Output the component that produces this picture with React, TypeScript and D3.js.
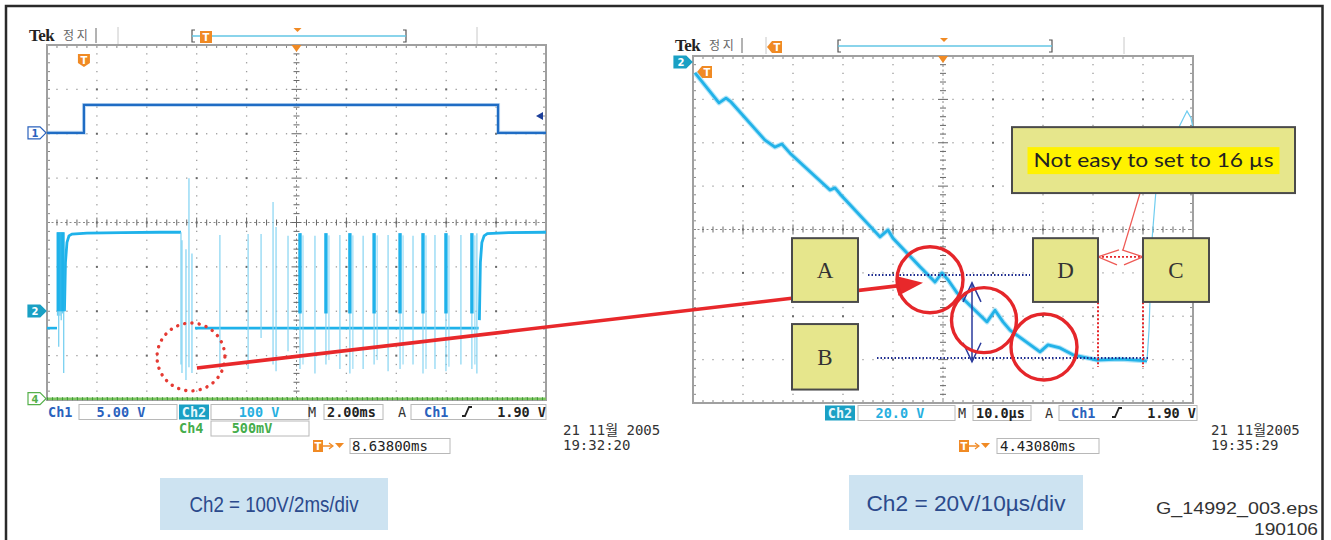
import React from "react";
import * as d3 from "d3";

// ---------------- Left scope (Ch1 5.00 V, Ch2 100 V/div, 2.00 ms/div) ----------------
// time in ms (10 divisions x 2 ms), amplitude in screen divisions (-4..4)
const leftTimeDomain: [number, number] = [0, 20];
const divDomain: [number, number] = [-4, 4];

const ch1Times = [0, 1.48, 1.48, 18.08, 18.08, 20];
const ch1Levels = [2.02, 2.02, 2.65, 2.65, 2.02, 2.02];

const ch2BaseLevel = -2.38;
const ch2BaseStarts = [0, 5.93];
const ch2BaseEnds = [0.4, 17.3];

const ch2Plateau1Times = [0.7, 0.74, 0.8, 0.88, 1.0, 1.6, 3.0, 4.5, 5.37];
const ch2Plateau1Levels = [-2.0, -0.9, -0.45, -0.3, -0.26, -0.24, -0.23, -0.22, -0.22];
const ch2Plateau2Times = [17.33, 17.37, 17.43, 17.52, 17.65, 18.5, 20];
const ch2Plateau2Levels = [-2.2, -0.9, -0.45, -0.3, -0.25, -0.23, -0.22];

const ch2BurstTimes = [0.42, 0.47, 0.52, 0.57, 0.62, 0.67];
const ch2BurstBottoms = [-2.1, -2.8, -2.1, -2.2, -2.05, -3.39];
const ch2BurstTop = -0.22;

const ch2SpikeTimes = [5.37, 5.41, 5.57, 5.69, 5.81];
const ch2SpikeTops = [-0.22, -0.4, -0.6, 1.0, -0.7];
const ch2SpikeBottoms = [-3.2, -3.39, -3.55, -3.26, -3.39];

const pulseTimes = [6.93, 8.06, 8.58, 9.06, 9.18, 9.66, 10.14, 10.74, 11.18, 11.74, 12.14, 12.67, 13.11, 13.67, 14.15, 14.67, 15.07, 15.55, 15.99, 16.59, 17.03, 17.23];
const pulseTops = [-0.28, -0.26, -0.26, 0.46, -0.1, -0.3, -0.24, -0.3, -0.24, -0.28, -0.24, -0.3, -0.24, -0.28, -0.24, -0.3, -0.24, -0.28, -0.24, -0.28, -0.24, -0.24];
const pulseBottoms = [-3.3, -3.3, -2.6, -3.2, -3.35, -2.9, -3.3, -3.4, -3.2, -3.3, -3.4, -3.3, -3.2, -3.35, -3.3, -3.2, -3.4, -3.3, -3.35, -3.2, -3.3, -3.4];
const pulseThick = [false, false, false, false, false, false, true, false, true, false, true, false, true, false, true, false, true, false, true, false, true, false];

const ch4Level = -3.97;

// ---------------- Right scope (Ch2 20.0 V/div, 10.0 µs/div) ----------------
const rightTimeDomain: [number, number] = [0, 100];
const ch2RightTimes = [0.4, 5.2, 6.6, 7.6, 14.4, 16.4, 17.8, 19.4, 27.4, 28.4, 29.4, 37.4, 39.0, 40.0, 45.4, 48.4, 49.8, 51.0, 52.8, 58.8, 60.4, 62.0, 63.4, 69.4, 71.0, 73.4, 76.0, 80.8, 85.4, 90.8];
const ch2RightLevels = [3.61, 2.92, 3.03, 2.94, 2.06, 1.9, 1.97, 1.76, 0.91, 0.96, 0.82, -0.17, -0.01, -0.2, -0.86, -1.21, -1.0, -1.16, -1.46, -2.13, -1.86, -2.13, -2.32, -2.82, -2.66, -2.73, -2.89, -3.01, -2.99, -3.03];
const ch2RiseTimes = [90.8, 91.2, 91.8, 92.6, 95.4, 97.4, 98.8, 99.6, 100];
const ch2RiseLevels = [-3.03, -2.32, -0.24, 0.91, 1.83, 2.41, 2.73, 2.57, 2.34];

// annotations in right-scope units (µs, divisions)
const boxLabels = ["A", "B", "D", "C"];
const boxT0 = [19.8, 19.8, 68, 90];
const boxT1 = [33.0, 33.0, 81, 103.2];
const boxVTop = [-0.2, -2.18, -0.2, -0.2];
const boxVBot = [-1.67, -3.69, -1.67, -1.67];

const noteText = "Not easy to set to 16 µs";
const noteT = [63.8, 120.4];
const noteV = [2.36, 0.84];

const circleT = [47.4, 58.2, 70.2];
const circleV = [-1.16, -2.09, -2.71];
const circleR = [6.6, 6.5, 6.6];

const blueLevelV = [-1.05, -2.96];
const blueLevelT0 = [35, 36.8];
const blueLevelT1 = [67.4, 91];
const blueArrowT = 55.8;
const blueArrowV = [-1.23, -3.05];

const redMarkT = [81, 90];
const redMarkV = [-0.2, -3.17];
const redSpanV = -0.63;
const pointerFrom = [89.4, 0.84];
const pointerTo = [86, -0.47];

// big red arrow: from left scope (ms, div) to right scope (µs, div)
const arrowFromLeft = [6.01, -3.28];
const arrowToRight = [46, -1.23];
const dottedCircleLeft = [5.77, -3.03, 1.36];

const leftCaption = "Ch2 = 100V/2ms/div";
const rightCaption = "Ch2 = 20V/10µs/div";
const fileName = "G_14992_003.eps";
const fileDate = "190106";

// ---------------- scales ----------------
const xL = d3.scaleLinear().domain(leftTimeDomain).range([47, 546]);
const yL = d3.scaleLinear().domain(divDomain).range([400, 45]);
const xR = d3.scaleLinear().domain(rightTimeDomain).range([693, 1193]);
const yR = d3.scaleLinear().domain(divDomain).range([403, 56]);

const MONO = "'DejaVu Sans Mono', monospace";
const ORANGE = "#f08a24";
const CYAN = "#1fb2ea";
const CH1BLUE = "#2a62bd";
const NARROW = "'Liberation Sans Narrow', 'Liberation Sans', sans-serif";

function Graticule({ xs, ys, id }: any) {
  const xd = xs.domain();
  const yd = ys.domain();
  const X = (f: number) => xs(xd[0] + (xd[1] - xd[0]) * f);
  const Y = (f: number) => ys(yd[0] + (yd[1] - yd[0]) * f);
  const left = X(0), right = X(1), top = Y(1), bottom = Y(0);
  const cx = X(0.5), cy = Y(0.5);
  const els: any[] = [];
  for (let i = 1; i < 10; i++) {
    if (i === 5) continue;
    const x = X(i / 10);
    for (let k = 1; k < 40; k++) {
      const big = k % 5 === 0;
      const s = big ? 2 : 1.3;
      els.push(<rect key={`${id}v${i}-${k}`} x={x - s / 2} y={Y(k / 40) - s / 2} width={s} height={s} fill={big ? "#666" : "#9c9c9c"} />);
    }
  }
  for (let j = 1; j < 8; j++) {
    if (j === 4) continue;
    const y = Y(j / 8);
    for (let k = 1; k < 50; k++) {
      if (k % 5 === 0) continue;
      els.push(<rect key={`${id}h${j}-${k}`} x={X(k / 50) - 0.65} y={y - 0.65} width={1.3} height={1.3} fill="#9c9c9c" />);
    }
  }
  els.push(<line key={`${id}cv`} x1={cx} x2={cx} y1={top} y2={bottom} stroke="#8a8a8a" strokeWidth={1} strokeDasharray="2 2.5" />);
  els.push(<line key={`${id}ch`} x1={left} x2={right} y1={cy} y2={cy} stroke="#8a8a8a" strokeWidth={1} strokeDasharray="2 2.5" />);
  for (let k = 1; k < 40; k++) {
    const y = Y(k / 40);
    const l = k % 5 === 0 ? 5 : 3;
    els.push(<line key={`${id}ct${k}`} x1={cx - l} x2={cx + l} y1={y} y2={y} stroke="#666" strokeWidth={1} />);
    els.push(<line key={`${id}lt${k}`} x1={left} x2={left + 3} y1={y} y2={y} stroke="#888" strokeWidth={1} />);
    els.push(<line key={`${id}rt${k}`} x1={right - 3} x2={right} y1={y} y2={y} stroke="#888" strokeWidth={1} />);
  }
  for (let k = 1; k < 50; k++) {
    const x = X(k / 50);
    const l = k % 5 === 0 ? 5 : 3;
    els.push(<line key={`${id}cht${k}`} x1={x} x2={x} y1={cy - l} y2={cy + l} stroke="#666" strokeWidth={1} />);
    els.push(<line key={`${id}tt${k}`} x1={x} x2={x} y1={top} y2={top + 3} stroke="#888" strokeWidth={1} />);
    els.push(<line key={`${id}bt${k}`} x1={x} x2={x} y1={bottom - 3} y2={bottom} stroke="#888" strokeWidth={1} />);
  }
  els.push(<rect key={`${id}border`} x={left} y={top} width={right - left} height={bottom - top} fill="none" stroke="#a0a0a0" strokeWidth={2} />);
  return <g>{els}</g>;
}

function TIcon({ x, y, dir }: any) {
  let shape;
  if (dir === "down") {
    shape = `M${x - 6},${y - 6} H${x + 6} V${y + 3} L${x},${y + 7} L${x - 6},${y + 3} Z`;
  } else if (dir === "left") {
    shape = `M${x - 9},${y} L${x - 4},${y - 6} H${x + 6} V${y + 6} H${x - 4} Z`;
  } else {
    shape = `M${x - 6},${y - 6} H${x + 6} V${y + 6} H${x - 6} Z`;
  }
  return (
    <g>
      <path d={shape} fill={ORANGE} />
      <text x={x + (dir === "left" ? 1 : 0)} y={y + 4} textAnchor="middle" fontFamily="'DejaVu Sans', sans-serif" fontWeight="bold" fontSize={10} fill="#fff">T</text>
    </g>
  );
}

function TopBar({ x0, y, bracket, sep, trigX, tIcon }: any) {
  return (
    <g>
      <text x={x0} y={y + 5} fontFamily="'Liberation Serif', serif" fontWeight="bold" fontSize={17} fill="#222" letterSpacing={-0.5}>Tek</text>
      <text x={x0 + 34} y={y + 4} fontFamily="'Noto Sans CJK KR', sans-serif" fontSize={12} fill="#666">정 지</text>
      <line x1={x0 + 67} x2={x0 + 67} y1={y - 8} y2={y + 7} stroke="#666" strokeWidth={1} />
      {sep.map((s: number, i: number) => (
        <line key={i} x1={s} x2={s} y1={y - 9} y2={y + 8} stroke="#c8c8c8" strokeWidth={1} />
      ))}
      <path d={`M${bracket[0] + 3},${y - 6} H${bracket[0]} V${y + 6} H${bracket[0] + 3}`} fill="none" stroke="#555" strokeWidth={1.2} />
      <path d={`M${bracket[1] - 3},${y - 6} H${bracket[1]} V${y + 6} H${bracket[1] - 3}`} fill="none" stroke="#555" strokeWidth={1.2} />
      <line x1={bracket[0]} x2={bracket[1]} y1={y} y2={y} stroke="#63c6e4" strokeWidth={1.6} />
      <path d={`M${trigX - 4},${y - 8} H${trigX + 4} L${trigX},${y - 4} Z`} fill={ORANGE} />
      {tIcon}
    </g>
  );
}

function ChMarker({ x, y, label, fill, stroke, color }: any) {
  const d = `M${x},${y - 6} H${x + 12} L${x + 18},${y} L${x + 12},${y + 6} H${x} Z`;
  return (
    <g>
      <path d={d} fill={fill} stroke={stroke} strokeWidth={1.2} />
      <text x={x + 7} y={y + 4} textAnchor="middle" fontFamily="'DejaVu Sans', sans-serif" fontWeight="bold" fontSize={10} fill={color}>{label}</text>
    </g>
  );
}

function Box({ x0, x1, y }: any) {
  return <rect x={x0} y={y - 7.5} width={x1 - x0} height={15} fill="none" stroke="#b8b8b8" strokeWidth={1} />;
}

function Slope({ x, y }: any) {
  return <path d={`M${x - 5},${y + 4} H${x - 2} L${x + 2},${y - 5} H${x + 5}`} fill="none" stroke="#222" strokeWidth={1.8} />;
}

function TrigOffset({ x, y }: any) {
  return (
    <g>
      <rect x={x} y={y - 6} width={10} height={12} fill={ORANGE} />
      <text x={x + 5} y={y + 4} textAnchor="middle" fontFamily="'DejaVu Sans', sans-serif" fontWeight="bold" fontSize={10} fill="#fff">T</text>
      <line x1={x + 10} x2={x + 19} y1={y} y2={y} stroke={ORANGE} strokeWidth={1.5} />
      <path d={`M${x + 16},${y - 3} L${x + 20},${y} L${x + 16},${y + 3}`} fill="none" stroke={ORANGE} strokeWidth={1.2} />
      <path d={`M${x + 22},${y - 3} H${x + 31} L${x + 26.5},${y + 2} Z`} fill={ORANGE} />
    </g>
  );
}

export default function App() {
  const lineL = d3.line<[number, number]>().x((d) => xL(d[0])).y((d) => yL(d[1]));
  const lineR = d3.line<[number, number]>().x((d) => xR(d[0])).y((d) => yR(d[1]));
  const zipPts = (a: number[], b: number[]) => a.map((v, i) => [v, b[i]] as [number, number]);

  const ch1Path = lineL(zipPts(ch1Times, ch1Levels)) || "";
  const plat1 = lineL(zipPts(ch2Plateau1Times, ch2Plateau1Levels)) || "";
  const plat2 = lineL(zipPts(ch2Plateau2Times, ch2Plateau2Levels)) || "";
  const rightMain = lineR(zipPts(ch2RightTimes, ch2RightLevels)) || "";
  const rightRise = lineR(zipPts(ch2RiseTimes, ch2RiseLevels)) || "";

  const ax0 = xL(arrowFromLeft[0]), ay0 = yL(arrowFromLeft[1]);
  const ax1 = xR(arrowToRight[0]), ay1 = yR(arrowToRight[1]);
  const ang = Math.atan2(ay1 - ay0, ax1 - ax0);
  const hl = 26, hw = 10;
  const bx = ax1 - hl * Math.cos(ang), by = ay1 - hl * Math.sin(ang);
  const head = `M${ax1},${ay1} L${bx + hw * Math.sin(ang)},${by - hw * Math.cos(ang)} L${bx - hw * Math.sin(ang)},${by + hw * Math.cos(ang)} Z`;

  const bxA = xR(blueArrowT);
  const byTop = yR(blueArrowV[0]);
  const byBot = yR(blueArrowV[1]);

  const rx0 = xR(redMarkT[0]), rx1 = xR(redMarkT[1]);
  const ry = yR(redSpanV);

  return (
    <svg width={1331} height={540} style={{ position: "absolute", left: 0, top: 0, background: "#fff" }}>
      <rect x={0} y={0} width={1331} height={540} fill="#fff" />
      <path d="M6,560 V6 H1322.5 V560" fill="none" stroke="#2a2a2a" strokeWidth={2.5} />

      {/* ===== Left scope ===== */}
      <Graticule xs={xL} ys={yL} id="L" />
      <TopBar x0={29} y={36} bracket={[192, 406]} sep={[118, 477]} trigX={297.5} tIcon={<TIcon x={206} y={37} dir="box" />} />
      <path d={`M${xL(10) - 5},45 H${xL(10) + 5} L${xL(10)},52 Z`} fill={ORANGE} />
      <TIcon x={xL(1.48)} y={60} dir="down" />
      <ChMarker x={28} y={yL(2.02)} label="1" fill="#fff" stroke={CH1BLUE} color={CH1BLUE} />
      <ChMarker x={28} y={311} label="2" fill="#1aa0c4" stroke="#1aa0c4" color="#fff" />
      <ChMarker x={28} y={yL(ch4Level)} label="4" fill="#fff" stroke="#55b04a" color="#55b04a" />
      <path d="M536,116 L543,112 V120 Z" fill="#1d3f9a" />

      <line x1={xL(0)} x2={xL(20)} y1={yL(ch4Level)} y2={yL(ch4Level)} stroke="#7cc55f" strokeWidth={2.5} />
      <line x1={xL(0)} x2={xL(20)} y1={yL(ch4Level)} y2={yL(ch4Level)} stroke="#3e9a3a" strokeWidth={3} strokeDasharray="1 4" />

      <path d={ch1Path} fill="none" stroke="#5a9ee0" strokeWidth={4} opacity={0.35} />
      <path d={ch1Path} fill="none" stroke="#1f6cc4" strokeWidth={2.2} />

      {ch2BaseStarts.map((s, i) => (
        <line key={`b${i}`} x1={xL(s)} x2={xL(ch2BaseEnds[i])} y1={yL(ch2BaseLevel)} y2={yL(ch2BaseLevel)} stroke={CYAN} strokeWidth={2.6} />
      ))}
      <path d={plat1} fill="none" stroke={CYAN} strokeWidth={2.8} />
      <path d={plat2} fill="none" stroke={CYAN} strokeWidth={2.8} />
      {ch2BurstTimes.map((t, i) => (
        <g key={`bu${i}`}>
          <line x1={xL(t)} x2={xL(t)} y1={yL(ch2BurstTop)} y2={yL(ch2BurstBottoms[i])} stroke="#6fcdf0" strokeWidth={1.2} />
          <line x1={xL(t)} x2={xL(t)} y1={yL(ch2BurstTop)} y2={yL(-2.0)} stroke={CYAN} strokeWidth={1.8} />
        </g>
      ))}
      {ch2SpikeTimes.map((t, i) => (
        <line key={`sp${i}`} x1={xL(t)} x2={xL(t)} y1={yL(ch2SpikeTops[i])} y2={yL(ch2SpikeBottoms[i])} stroke="#7fd2f2" strokeWidth={1.2} />
      ))}
      {pulseTimes.map((t, i) => (
        <g key={`p${i}`}>
          <line x1={xL(t)} x2={xL(t)} y1={yL(pulseTops[i])} y2={yL(pulseBottoms[i])} stroke="#86d4f2" strokeWidth={1.2} />
          {pulseThick[i] && (
            <>
              <line x1={xL(t)} x2={xL(t)} y1={yL(pulseTops[i])} y2={yL(-2.05)} stroke={CYAN} strokeWidth={3.4} />
              <line x1={xL(t) + 3} x2={xL(t) + 3} y1={yL(pulseTops[i] - 0.05)} y2={yL(pulseBottoms[i] + 0.1)} stroke="#86d4f2" strokeWidth={1} />
            </>
          )}
        </g>
      ))}

      <g fontFamily={MONO} fontWeight="bold" fontSize={13.5}>
        <text x={48} y={417} fill={CH1BLUE}>Ch1</text>
        <Box x0={79} x1={177} y={412} />
        <text x={121} y={417} textAnchor="middle" fill={CH1BLUE}>5.00 V</text>
        <rect x={179} y={404.5} width={30} height={15} fill="#1aa0c4" />
        <text x={194} y={417} textAnchor="middle" fill="#e6f7fc">Ch2</text>
        <Box x0={211} x1={309} y={412} />
        <text x={259} y={417} textAnchor="middle" fill="#27afe0">100 V</text>
        <text x={312} y={417} textAnchor="middle" fill="#333" fontWeight="normal">M</text>
        <Box x0={324} x1={383} y={412} />
        <text x={327} y={417} fill="#222">2.00ms</text>
        <text x={402} y={417} textAnchor="middle" fill="#333" fontWeight="normal">A</text>
        <Box x0={411} x1={546} y={412} />
        <text x={424} y={417} fill={CH1BLUE}>Ch1</text>
        <Slope x={467} y={412} />
        <text x={546} y={417} textAnchor="end" fill="#222">1.90 V</text>
        <text x={179} y={433} fill="#45ad4b">Ch4</text>
        <Box x0={211} x1={309} y={428.5} />
        <text x={252} y={433} textAnchor="middle" fill="#45ad4b">500mV</text>
        <TrigOffset x={313} y={446} />
        <Box x0={350} x1={450} y={446} />
        <text x={352} y={451} fill="#222" fontWeight="normal" fontSize={14}>8.63800ms</text>
      </g>
      <g fontFamily={`${MONO}, 'Noto Sans CJK KR'`} fontSize={14} fill="#333">
        <text x={563} y={435}>21 11월 2005</text>
        <text x={563} y={450}>19:32:20</text>
      </g>

      {/* ===== Right scope ===== */}
      <Graticule xs={xR} ys={yR} id="R" />
      <TopBar x0={675} y={46} bracket={[838, 1052]} sep={[766, 1124]} trigX={944} tIcon={<TIcon x={776} y={47} dir="left" />} />
      <path d={`M${xR(50) - 5},56 H${xR(50) + 5} L${xR(50)},63 Z`} fill={ORANGE} />
      <ChMarker x={674} y={62} label="2" fill="#1aa0c4" stroke="#1aa0c4" color="#fff" />
      <TIcon x={706} y={72} dir="left" />

      <path d={rightMain} fill="none" stroke="#7fd3f3" strokeWidth={5} opacity={0.6} strokeLinejoin="round" />
      <path d={rightMain} fill="none" stroke="#22b2e8" strokeWidth={2.8} strokeLinejoin="round" />
      <path d={rightRise} fill="none" stroke="#6fcdf0" strokeWidth={1.2} />

      <g fontFamily={MONO} fontWeight="bold" fontSize={13.5}>
        <rect x={825} y={405.5} width={30} height={15} fill="#1aa0c4" />
        <text x={840} y={418} textAnchor="middle" fill="#e6f7fc">Ch2</text>
        <Box x0={858} x1={955} y={413} />
        <text x={900} y={418} textAnchor="middle" fill="#27afe0">20.0 V</text>
        <text x={962} y={418} textAnchor="middle" fill="#333" fontWeight="normal">M</text>
        <Box x0={973} x1={1031} y={413} />
        <text x={976} y={418} fill="#222">10.0µs</text>
        <text x={1049} y={418} textAnchor="middle" fill="#333" fontWeight="normal">A</text>
        <Box x0={1059} x1={1197} y={413} />
        <text x={1071} y={418} fill={CH1BLUE}>Ch1</text>
        <Slope x={1117} y={413} />
        <text x={1196} y={418} textAnchor="end" fill="#222">1.90 V</text>
        <TrigOffset x={959} y={446} />
        <Box x0={997} x1={1099} y={446} />
        <text x={1000} y={451} fill="#222" fontWeight="normal" fontSize={14}>4.43080ms</text>
      </g>
      <g fontFamily={`${MONO}, 'Noto Sans CJK KR'`} fontSize={14} fill="#333">
        <text x={1211} y={435}>21 11월2005</text>
        <text x={1211} y={450}>19:35:29</text>
      </g>

      {/* ===== Annotations ===== */}
      {blueLevelV.map((v, i) => (
        <line key={`bl${i}`} x1={xR(blueLevelT0[i])} x2={xR(blueLevelT1[i])} y1={yR(v)} y2={yR(v)} stroke="#1c2b8f" strokeWidth={2} strokeDasharray="1.5 2" />
      ))}
      <g stroke="#2a3a9c" strokeWidth={1.5} fill="none">
        <line x1={bxA} x2={bxA} y1={byTop} y2={byBot} />
        <path d={`M${bxA - 9},${byTop + 19} L${bxA},${byTop} L${bxA + 9},${byTop + 19}`} />
        <path d={`M${bxA - 9},${byBot - 19} L${bxA},${byBot} L${bxA + 9},${byBot - 19}`} />
      </g>

      <circle cx={xL(dottedCircleLeft[0])} cy={yL(dottedCircleLeft[1])} r={xL(dottedCircleLeft[2]) - xL(0)} fill="none" stroke="#e53a33" strokeWidth={3.4} strokeLinecap="round" strokeDasharray="0.1 7.2" />

      <line x1={ax0} y1={ay0} x2={bx} y2={by} stroke="#e8282b" strokeWidth={3.6} />
      <path d={head} fill="#e8282b" />

      {circleT.map((t, i) => (
        <circle key={`rc${i}`} cx={xR(t)} cy={yR(circleV[i])} r={xR(t + circleR[i]) - xR(t)} fill="none" stroke="#e5262a" strokeWidth={3.4} />
      ))}

      {redMarkT.map((t, i) => (
        <line key={`rm${i}`} x1={xR(t)} x2={xR(t)} y1={yR(redMarkV[0])} y2={yR(redMarkV[1])} stroke="#e5262a" strokeWidth={2} strokeDasharray="2 2" />
      ))}
      <line x1={rx0} x2={rx1} y1={ry} y2={ry} stroke="#e5262a" strokeWidth={1.6} strokeDasharray="2 2" />
      <g stroke="#ee5a55" strokeWidth={1.3} fill="none">
        <path d={`M${rx0 + 21},${ry - 7} L${rx0},${ry} L${rx0 + 19},${ry + 8}`} />
        <path d={`M${rx1 - 21},${ry - 7} L${rx1},${ry} L${rx1 - 19},${ry + 8}`} />
        <line x1={xR(pointerFrom[0])} y1={yR(pointerFrom[1])} x2={xR(pointerTo[0])} y2={yR(pointerTo[1])} />
      </g>

      {boxLabels.map((lab, i) => {
        const x0 = xR(boxT0[i]), x1 = xR(boxT1[i]);
        const y0 = yR(boxVTop[i]), y1 = yR(boxVBot[i]);
        return (
          <g key={`box${lab}`}>
            <rect x={x0} y={y0} width={x1 - x0} height={y1 - y0} fill="#e6e68c" stroke="#4a4a4a" strokeWidth={2} />
            <text x={(x0 + x1) / 2} y={(y0 + y1) / 2 + 8} textAnchor="middle" fontFamily="'Liberation Serif', serif" fontSize={23} fill="#333">{lab}</text>
          </g>
        );
      })}

      {(() => {
        const x0 = xR(noteT[0]), x1 = xR(noteT[1]);
        const y0 = yR(noteV[0]), y1 = yR(noteV[1]);
        const cx = (x0 + x1) / 2, cy = (y0 + y1) / 2;
        return (
          <g>
            <rect x={x0} y={y0} width={x1 - x0} height={y1 - y0} fill="#e6e68c" stroke="#4a4a4a" strokeWidth={2} />
            <rect x={cx - 126} y={cy - 13} width={252} height={27} fill="#fff200" />
            <text x={cx} y={cy + 7} textAnchor="middle" fontFamily="Lato, 'Open Sans', sans-serif" fontSize={20} fill="#222" textLength={240} lengthAdjust="spacingAndGlyphs">{noteText}</text>
          </g>
        );
      })()}

      {/* ===== Captions ===== */}
      <rect x={160} y={478} width={228} height={52} fill="#cde3f1" />
      <text x={274} y={512} textAnchor="middle" fontFamily={NARROW} fontSize={22} fill="#2b4a8c" textLength={169} lengthAdjust="spacingAndGlyphs">{leftCaption}</text>
      <rect x={849} y={475} width={234} height={55} fill="#cde3f1" />
      <text x={966} y={511} textAnchor="middle" fontFamily={NARROW} fontSize={22} fill="#2b4a8c" textLength={199} lengthAdjust="spacingAndGlyphs">{rightCaption}</text>
      <text x={1318} y={514} textAnchor="end" fontFamily={NARROW} fontSize={17} fill="#333" textLength={162} lengthAdjust="spacingAndGlyphs">{fileName}</text>
      <text x={1318} y={535} textAnchor="end" fontFamily={NARROW} fontSize={17} fill="#333" textLength={64} lengthAdjust="spacingAndGlyphs">{fileDate}</text>
    </svg>
  );
}
